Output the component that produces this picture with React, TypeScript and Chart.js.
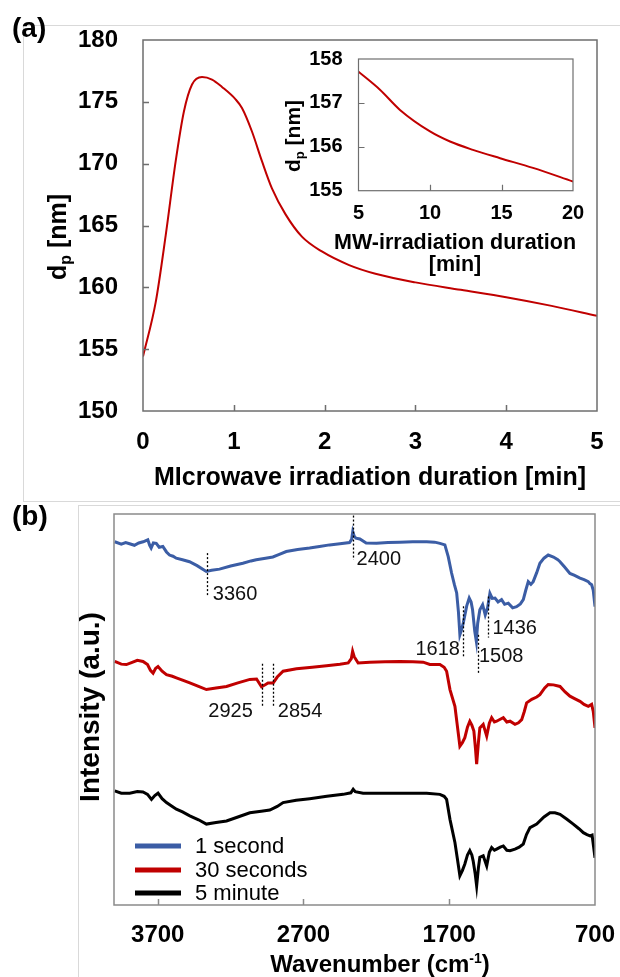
import React, { useEffect, useRef } from "react";
import { Chart, registerables } from "chart.js";

Chart.register(...registerables);

const FONT = "'Liberation Sans', Arial, Helvetica, sans-serif";

// ---------- Panel (a): main curve ----------
const mainTime = [0, 0.14, 0.25, 0.36, 0.45, 0.54, 0.65, 0.76, 0.87, 1.02, 1.09, 1.2, 1.31, 1.42, 1.57, 1.75, 1.97, 2.27, 2.56, 3.0, 3.5, 4.0, 4.5, 5.0];
const mainDp = [154.4, 158.8, 164.2, 170.2, 174.2, 176.4, 177.0, 176.8, 176.2, 175.2, 174.5, 172.6, 170.2, 168.0, 165.9, 164.1, 162.9, 161.8, 161.1, 160.4, 159.8, 159.2, 158.5, 157.7];
const mainXTicks = [0, 1, 2, 3, 4, 5];
const mainYTicks = [150, 155, 160, 165, 170, 175, 180];

// ---------- Panel (a): inset ----------
const insetTime = [5, 6.5, 7.9, 10, 11.4, 13, 14.9, 17.2, 20];
const insetDp = [157.71, 157.3, 156.84, 156.35, 156.12, 155.93, 155.74, 155.52, 155.21];
const insetXTicks = [5, 10, 15, 20];
const insetYTicks = [155, 156, 157, 158];

// ---------- Panel (b): FTIR spectra ----------
const seriesLabels = ["1 second", "30 seconds", "5 minute"];
const blueWn = [3995, 3950, 3920, 3893, 3860, 3830, 3800, 3768, 3755, 3745, 3730, 3710, 3690, 3665, 3640, 3619, 3595, 3573, 3530, 3482, 3430, 3367, 3330, 3276, 3200, 3116, 3060, 3024, 2960, 2910, 2870, 2818, 2740, 2658, 2590, 2521, 2450, 2384, 2370, 2362, 2352, 2340, 2313, 2270, 2199, 2120, 2039, 1950, 1855, 1800, 1764, 1730, 1707, 1684, 1665, 1649, 1637, 1627, 1615, 1604, 1580, 1563, 1550, 1540, 1525, 1514, 1505, 1490, 1471, 1453, 1437, 1421, 1405, 1386, 1365, 1341, 1320, 1295, 1265, 1238, 1212, 1192, 1175, 1158, 1140, 1124, 1100, 1078, 1050, 1021, 985, 955, 940, 910, 872, 840, 803, 775, 746, 735, 723, 712, 700];
const blueI = [92.9, 92.3, 92.7, 92.4, 92.0, 92.6, 92.9, 93.4, 92.0, 91.3, 92.6, 92.5, 91.5, 91.7, 90.3, 89.5, 89.2, 88.7, 88.3, 87.8, 86.8, 85.3, 85.6, 85.9, 86.7, 87.4, 88.0, 88.3, 88.7, 89.0, 89.6, 90.4, 90.9, 91.3, 91.7, 92.1, 92.4, 92.7, 93.5, 95.5, 94.3, 93.8, 93.6, 92.6, 92.5, 92.7, 92.8, 92.9, 92.9, 92.8, 92.5, 92.1, 89.1, 84.9, 82.0, 79.8, 75.0, 69.1, 70.5, 72.1, 76.5, 78.5, 77.5, 75.5, 70.0, 67.4, 72.0, 75.5, 76.8, 74.2, 76.0, 79.7, 78.4, 78.5, 77.5, 78.1, 76.9, 77.2, 76.0, 76.3, 77.0, 78.1, 80.5, 82.7, 82.0, 82.7, 85.0, 87.4, 88.7, 89.5, 89.0, 88.3, 87.8, 86.5, 84.8, 84.3, 83.6, 83.2, 82.7, 82.2, 81.9, 80.5, 76.3];
const redWn = [3995, 3950, 3915, 3880, 3840, 3801, 3770, 3750, 3732, 3715, 3698, 3670, 3640, 3600, 3572, 3530, 3480, 3420, 3366, 3300, 3228, 3150, 3068, 3022, 2988, 2960, 2943, 2908, 2880, 2840, 2748, 2640, 2542, 2450, 2393, 2372, 2363, 2352, 2325, 2245, 2140, 2039, 1950, 1879, 1833, 1764, 1735, 1718, 1695, 1661, 1645, 1627, 1610, 1593, 1575, 1559, 1545, 1531, 1520, 1512, 1500, 1490, 1467, 1443, 1425, 1409, 1390, 1375, 1350, 1329, 1305, 1283, 1249, 1225, 1203, 1185, 1169, 1134, 1100, 1078, 1045, 1021, 985, 940, 905, 872, 840, 803, 775, 746, 723, 712, 700];
const redI = [62.3, 61.6, 61.5, 62.0, 62.6, 62.3, 61.5, 60.0, 59.3, 60.5, 61.0, 59.8, 58.9, 58.5, 58.1, 57.5, 56.8, 55.9, 55.1, 55.5, 55.9, 56.8, 57.7, 57.8, 55.8, 56.4, 56.8, 56.8, 58.3, 59.8, 60.4, 60.8, 61.2, 61.6, 61.9, 63.0, 64.9, 63.5, 61.9, 62.1, 62.2, 62.3, 62.2, 62.1, 61.5, 61.5, 60.8, 59.8, 55.1, 50.8, 46.0, 40.6, 41.5, 42.8, 45.5, 47.0, 46.0, 44.5, 40.0, 36.0, 41.5, 45.3, 46.2, 43.2, 46.5, 47.9, 46.8, 47.0, 47.5, 47.9, 46.8, 47.0, 46.2, 46.6, 47.4, 49.5, 51.7, 52.6, 53.2, 53.8, 55.5, 56.4, 56.3, 55.9, 54.5, 53.4, 52.8, 52.1, 51.3, 50.8, 51.3, 49.5, 45.3];
const blackWn = [3995, 3950, 3892, 3840, 3801, 3770, 3743, 3720, 3698, 3670, 3640, 3600, 3572, 3530, 3480, 3420, 3366, 3300, 3228, 3150, 3068, 2990, 2931, 2880, 2840, 2750, 2657, 2540, 2428, 2375, 2359, 2345, 2291, 2190, 2085, 1960, 1855, 1764, 1735, 1718, 1695, 1661, 1645, 1627, 1610, 1593, 1575, 1559, 1545, 1536, 1522, 1512, 1500, 1490, 1467, 1443, 1425, 1409, 1390, 1375, 1350, 1329, 1305, 1283, 1249, 1220, 1192, 1170, 1146, 1100, 1050, 1009, 975, 940, 895, 849, 810, 780, 755, 734, 720, 700];
const blackI = [29.2, 28.6, 28.6, 29.0, 28.9, 28.3, 27.0, 28.0, 28.6, 27.2, 26.2, 25.2, 24.5, 23.8, 22.8, 21.8, 20.7, 21.1, 21.5, 22.5, 23.6, 24.0, 24.3, 25.2, 26.2, 26.8, 27.2, 27.8, 28.3, 28.7, 29.6, 29.0, 28.6, 28.6, 28.6, 28.6, 28.6, 28.3, 27.8, 27.0, 21.9, 16.0, 12.0, 7.5, 8.8, 10.5, 12.8, 13.9, 12.8, 11.3, 8.0, 4.9, 9.5, 12.2, 12.6, 10.0, 13.5, 14.7, 14.0, 14.3, 14.8, 15.1, 14.0, 13.9, 14.3, 14.8, 15.6, 18.0, 19.8, 20.7, 22.5, 23.6, 23.6, 23.2, 22.0, 20.7, 19.5, 18.5, 18.0, 17.7, 17.9, 12.1];
const ftirXTicks = [3700, 2700, 1700, 700];

// peak annotations (wavenumber / intensity units)
const peakLabels = ["3360", "2400", "1618", "1508", "1436", "2925", "2854"];
const peakLineWn = [3359, 2362, 1608, 1505, 1437, 2986, 2906];
const peakLineFrom = [90.0, 99.6, 76.4, 69.1, 78.9, 61.7, 61.7];
const peakLineTo = [79.1, 88.3, 63.5, 58.9, 68.4, 50.8, 50.8];
const peakLabelWn = [3322, 2336, 1627, 1496, 1404, 3048, 2876];
const peakLabelI = [79.5, 88.3, 65.3, 63.6, 70.7, 49.6, 49.6];
const peakLabelAlign = ["left", "left", "right", "left", "left", "right", "left"];

const RED = "#C00000";
const BLUE = "#3B5DA5";
const BLACK = "#000000";

type Part = { text: string; size: number; dy: number };

function drawRich(ctx: CanvasRenderingContext2D, parts: Part[], cx: number, cy: number, baseSize: number, rotated: boolean, weight = "bold") {
  let total = 0;
  const widths = parts.map((p) => {
    ctx.font = `${weight} ${p.size}px ${FONT}`;
    const w = ctx.measureText(p.text).width;
    total += w;
    return w;
  });
  ctx.save();
  ctx.translate(cx, cy);
  if (rotated) ctx.rotate(-Math.PI / 2);
  ctx.fillStyle = "#000";
  ctx.textAlign = "left";
  ctx.textBaseline = "alphabetic";
  let x = -total / 2;
  const base = baseSize * 0.36;
  parts.forEach((p, i) => {
    ctx.font = `${weight} ${p.size}px ${FONT}`;
    ctx.fillText(p.text, x, base + p.dy);
    x += widths[i];
  });
  ctx.restore();
}

function frameTicks(color: string, width: number, xTicks: number[], yTicks: number[], len: number) {
  return {
    id: "frameTicks",
    afterDatasetsDraw(chart: any) {
      const { ctx, chartArea: a, scales } = chart;
      ctx.save();
      ctx.strokeStyle = color;
      ctx.lineWidth = width;
      ctx.strokeRect(a.left, a.top, a.right - a.left, a.bottom - a.top);
      ctx.beginPath();
      xTicks.forEach((v) => {
        const px = Math.round(scales.x.getPixelForValue(v)) + 0.5;
        ctx.moveTo(px, a.bottom);
        ctx.lineTo(px, a.bottom - len);
      });
      yTicks.forEach((v) => {
        const py = Math.round(scales.y.getPixelForValue(v)) + 0.5;
        ctx.moveTo(a.left, py);
        ctx.lineTo(a.left + len, py);
      });
      ctx.stroke();
      ctx.restore();
    },
  };
}

function textPlugin(fn: (ctx: CanvasRenderingContext2D, chart: any) => void) {
  return {
    id: "texts",
    afterDraw(chart: any) {
      fn(chart.ctx, chart);
    },
  };
}

const tickFont = (size: number, weight = "bold") => ({ family: FONT, size, weight });
const plain = (v: any) => String(v);
const fixX = (h: number) => (s: any) => {
  s.height = h;
  s.paddingLeft = 0;
  s.paddingRight = 0;
};
const fixY = (w: number) => (s: any) => {
  s.width = w;
  s.paddingTop = 0;
  s.paddingBottom = 0;
};

function buildMain(canvas: HTMLCanvasElement) {
  return new Chart(canvas, {
    type: "line",
    data: {
      datasets: [
        {
          label: "dp",
          data: mainTime.map((t, i) => ({ x: t, y: mainDp[i] })),
          borderColor: RED,
          borderWidth: 2,
          pointRadius: 0,
          fill: false,
          cubicInterpolationMode: "monotone",
        },
      ],
    },
    options: {
      responsive: false,
      animation: false,
      devicePixelRatio: 1,
      layout: { autoPadding: false, padding: { top: 40, right: 23, bottom: 39, left: 0 } },
      plugins: { legend: { display: false }, tooltip: { enabled: false } },
      scales: {
        x: {
          type: "linear",
          min: 0,
          max: 5,
          afterBuildTicks: (s: any) => {
            s.ticks = mainXTicks.map((v) => ({ value: v }));
          },
          ticks: { font: tickFont(24), color: "#000", padding: 17, maxRotation: 0, callback: plain },
          grid: { display: false, drawTicks: false },
          border: { display: false },
          afterFit: fixX(50),
        },
        y: {
          type: "linear",
          min: 150,
          max: 180,
          afterBuildTicks: (s: any) => {
            s.ticks = mainYTicks.map((v) => ({ value: v }));
          },
          ticks: { font: tickFont(24), color: "#000", padding: 25, callback: plain },
          grid: { display: false, drawTicks: false },
          border: { display: false },
          afterFit: fixY(143),
        },
      },
    } as any,
    plugins: [
      frameTicks("#6e6e6e", 1.5, [1, 2, 3, 4], [155, 160, 165, 170, 175], 6),
      textPlugin((ctx) => {
        ctx.save();
        ctx.fillStyle = "#000";
        ctx.font = `bold 28px ${FONT}`;
        ctx.textAlign = "left";
        ctx.textBaseline = "alphabetic";
        ctx.fillText("(a)", 12, 37);
        ctx.restore();
        drawRich(ctx, [{ text: "MIcrowave irradiation duration [min]", size: 25, dy: 0 }], 370, 476, 25, false);
        drawRich(
          ctx,
          [
            { text: "d", size: 25, dy: 0 },
            { text: "p", size: 16, dy: 5 },
            { text: " [nm]", size: 25, dy: 0 },
          ],
          57,
          237,
          25,
          true
        );
      }),
    ],
  });
}

function buildInset(canvas: HTMLCanvasElement) {
  return new Chart(canvas, {
    type: "line",
    data: {
      datasets: [
        {
          label: "dp inset",
          data: insetTime.map((t, i) => ({ x: t, y: insetDp[i] })),
          borderColor: RED,
          borderWidth: 2,
          pointRadius: 0,
          fill: false,
          cubicInterpolationMode: "monotone",
        },
      ],
    },
    options: {
      responsive: false,
      animation: false,
      devicePixelRatio: 1,
      layout: { autoPadding: false, padding: { top: 29, right: 47, bottom: 59.3, left: 0 } },
      plugins: { legend: { display: false }, tooltip: { enabled: false } },
      scales: {
        x: {
          type: "linear",
          min: 5,
          max: 20,
          afterBuildTicks: (s: any) => {
            s.ticks = insetXTicks.map((v) => ({ value: v }));
          },
          ticks: { font: tickFont(20), color: "#000", padding: 11, maxRotation: 0, callback: plain },
          grid: { display: false, drawTicks: false },
          border: { display: false },
          afterFit: fixX(30),
        },
        y: {
          type: "linear",
          min: 155,
          max: 158,
          afterBuildTicks: (s: any) => {
            s.ticks = insetYTicks.map((v) => ({ value: v }));
          },
          ticks: { font: tickFont(20), color: "#000", padding: 16, callback: plain },
          grid: { display: false, drawTicks: false },
          border: { display: false },
          afterFit: fixY(98.5),
        },
      },
    } as any,
    plugins: [
      frameTicks("#6e6e6e", 1.2, [10, 15], [156, 157], 6),
      textPlugin((ctx) => {
        drawRich(ctx, [{ text: "MW-irradiation duration", size: 21.5, dy: 0 }], 195, 211, 21.5, false);
        drawRich(ctx, [{ text: "[min]", size: 21.5, dy: 0 }], 195, 233, 21.5, false);
        drawRich(
          ctx,
          [
            { text: "d", size: 21, dy: 0 },
            { text: "p", size: 13, dy: 4 },
            { text: " [nm]", size: 21, dy: 0 },
          ],
          32,
          106,
          21,
          true
        );
      }),
    ],
  });
}

function buildFtir(canvas: HTMLCanvasElement) {
  const mk = (label: string, wn: number[], inten: number[], color: string) => ({
    label,
    data: wn.map((w, i) => ({ x: w, y: inten[i] })),
    borderColor: color,
    backgroundColor: color,
    borderWidth: 3,
    pointRadius: 0,
    fill: false,
    tension: 0,
  });
  return new Chart(canvas, {
    type: "line",
    data: {
      datasets: [
        mk(seriesLabels[0], blueWn, blueI, BLUE),
        mk(seriesLabels[1], redWn, redI, RED),
        mk(seriesLabels[2], blackWn, blackI, BLACK),
      ],
    },
    options: {
      responsive: false,
      animation: false,
      devicePixelRatio: 1,
      layout: { autoPadding: false, padding: { top: 14, right: 25, bottom: 32, left: 0 } },
      plugins: { legend: { display: false }, tooltip: { enabled: false } },
      scales: {
        x: {
          type: "linear",
          min: 700,
          max: 4000,
          reverse: true,
          afterBuildTicks: (s: any) => {
            s.ticks = ftirXTicks.map((v) => ({ value: v }));
          },
          ticks: { font: tickFont(24), color: "#000", padding: 16, maxRotation: 0, callback: plain },
          grid: { display: false, drawTicks: false },
          border: { display: false },
          afterFit: fixX(40),
        },
        y: {
          type: "linear",
          min: 0,
          max: 100,
          ticks: { display: false },
          grid: { display: false, drawTicks: false },
          border: { display: false },
          afterFit: fixY(114),
        },
      },
    } as any,
    plugins: [
      frameTicks("#8a8a8a", 1.5, [3700, 2700, 1700], [], 6),
      {
        id: "peaks",
        afterDatasetsDraw(chart: any) {
          const { ctx, scales } = chart;
          const xs = scales.x;
          const ys = scales.y;
          ctx.save();
          ctx.strokeStyle = "#000";
          ctx.lineWidth = 1.3;
          ctx.setLineDash([2, 2]);
          peakLineWn.forEach((w, i) => {
            const px = Math.round(xs.getPixelForValue(w)) + 0.5;
            ctx.beginPath();
            ctx.moveTo(px, ys.getPixelForValue(peakLineFrom[i]));
            ctx.lineTo(px, ys.getPixelForValue(peakLineTo[i]));
            ctx.stroke();
          });
          ctx.setLineDash([]);
          ctx.fillStyle = "#111";
          ctx.font = `20px ${FONT}`;
          ctx.textBaseline = "middle";
          peakLabels.forEach((t, i) => {
            ctx.textAlign = peakLabelAlign[i] as CanvasTextAlign;
            ctx.fillText(t, xs.getPixelForValue(peakLabelWn[i]), ys.getPixelForValue(peakLabelI[i]));
          });
          ctx.restore();
        },
      },
      {
        id: "customLegend",
        afterDraw(chart: any) {
          const { ctx, chartArea: a } = chart;
          const rows = [-59, -35, -12];
          ctx.save();
          chart.data.datasets.forEach((ds: any, i: number) => {
            const y = a.bottom + rows[i];
            ctx.strokeStyle = ds.borderColor;
            ctx.lineWidth = 5;
            ctx.beginPath();
            ctx.moveTo(a.left + 21, y);
            ctx.lineTo(a.left + 67, y);
            ctx.stroke();
            ctx.fillStyle = "#000";
            ctx.font = `22px ${FONT}`;
            ctx.textAlign = "left";
            ctx.textBaseline = "middle";
            ctx.fillText(ds.label, a.left + 81, y + 1);
          });
          ctx.restore();
        },
      },
      textPlugin((ctx) => {
        ctx.save();
        ctx.fillStyle = "#000";
        ctx.font = `bold 28px ${FONT}`;
        ctx.textAlign = "left";
        ctx.textBaseline = "alphabetic";
        ctx.fillText("(b)", 12, 25);
        ctx.restore();
        drawRich(
          ctx,
          [
            { text: "Wavenumber (cm", size: 24, dy: 0 },
            { text: "-1", size: 14, dy: -9 },
            { text: ")", size: 24, dy: 0 },
          ],
          380,
          463,
          24,
          false
        );
        drawRich(ctx, [{ text: "Intensity (a.u.)", size: 28, dy: 0 }], 89, 207, 28, true);
      }),
    ],
  });
}

function ChartCanvas(props: { left: number; top: number; width: number; height: number; build: (c: HTMLCanvasElement) => Chart }) {
  const ref = useRef<HTMLCanvasElement>(null);
  useEffect(() => {
    const chart = props.build(ref.current as HTMLCanvasElement);
    return () => chart.destroy();
  }, []);
  return (
    <canvas
      ref={ref}
      width={props.width}
      height={props.height}
      style={{ position: "absolute", left: props.left, top: props.top, width: props.width, height: props.height }}
    />
  );
}

export default function App() {
  return (
    <div style={{ position: "absolute", left: 0, top: 0, width: 620, height: 977, background: "#fff", overflow: "hidden" }}>
      <div style={{ position: "absolute", left: 23, top: 25, width: 620, height: 475, borderLeft: "1px solid #d9d9d9", borderTop: "1px solid #d9d9d9", borderBottom: "1px solid #d9d9d9" }} />
      <div style={{ position: "absolute", left: 78, top: 505, width: 620, height: 500, borderLeft: "1px solid #d9d9d9", borderTop: "1px solid #d9d9d9" }} />
      <ChartCanvas left={0} top={0} width={620} height={500} build={buildMain} />
      <ChartCanvas left={260} top={30} width={360} height={250} build={buildInset} />
      <ChartCanvas left={0} top={500} width={620} height={477} build={buildFtir} />
    </div>
  );
}
